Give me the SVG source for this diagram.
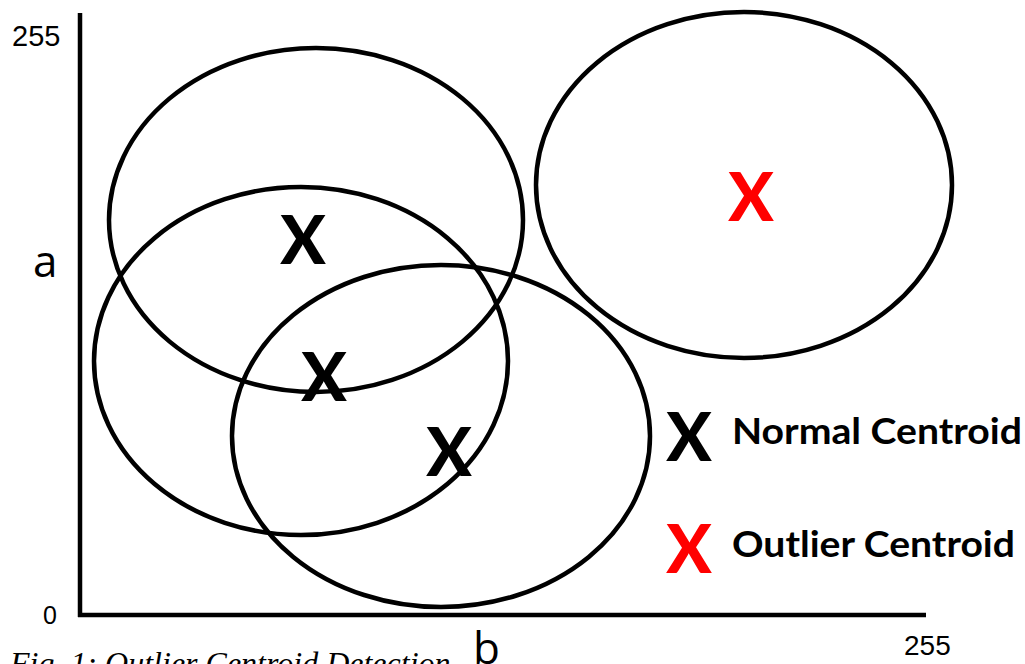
<svg xmlns="http://www.w3.org/2000/svg" width="1025" height="664" viewBox="0 0 1025 664">
<style>
.ax{stroke:#000;stroke-width:4.5;fill:none}
.cl{stroke:#000;stroke-width:4.5;fill:none}
.num{font-family:"Liberation Sans",Arial,sans-serif;fill:#000}
.lbl{font-family:"Open Sans","Noto Sans",sans-serif;fill:#000}
.mk{font-family:Lato,"Open Sans",sans-serif;font-weight:900;font-size:67px;text-anchor:middle}
.leg{font-family:Lato,"Open Sans",sans-serif;font-weight:700;font-size:36px;fill:#000}
.cap{font-family:"Liberation Serif","Times New Roman",serif;font-style:italic;font-size:32px;fill:#000}
</style>
<rect width="1025" height="664" fill="#fff"/>
<g id="axes">
<line class="ax" x1="80" y1="13" x2="80" y2="617"/>
<line class="ax" x1="78" y1="615" x2="926" y2="615"/>
<text class="num" x="12" y="46" font-size="29">255</text>
<text class="num" x="43" y="624" font-size="25">0</text>
<text class="num" x="904" y="655" font-size="28">255</text>
<text class="lbl" x="33" y="277" font-size="44">a</text>
<text class="lbl" x="473" y="664" font-size="44">b</text>
</g>
<g id="cluster1"><ellipse class="cl" cx="316" cy="220" rx="207" ry="172"/><text class="mk" x="303" y="264" fill="#000">X</text></g>
<g id="cluster2"><ellipse class="cl" cx="301" cy="361" rx="207" ry="174"/><text class="mk" x="324" y="401" fill="#000">X</text></g>
<g id="cluster3"><ellipse class="cl" cx="441" cy="436" rx="209" ry="171"/><text class="mk" x="449" y="476" fill="#000">X</text></g>
<g id="cluster4"><ellipse class="cl" cx="744" cy="185" rx="208" ry="173"/><text class="mk" x="751" y="221" fill="#ff0000">X</text></g>
<g id="legend">
<text class="mk" x="689" y="461" fill="#000">X</text>
<text class="leg" x="732" y="444" textLength="290" lengthAdjust="spacingAndGlyphs">Normal Centroid</text>
<text class="mk" x="689" y="573" fill="#ff0000">X</text>
<text class="leg" x="732" y="557" textLength="283" lengthAdjust="spacingAndGlyphs">Outlier Centroid</text>
</g>
<text class="cap" x="10" y="674">Fig. 1: Outlier Centroid Detection</text>
</svg>
